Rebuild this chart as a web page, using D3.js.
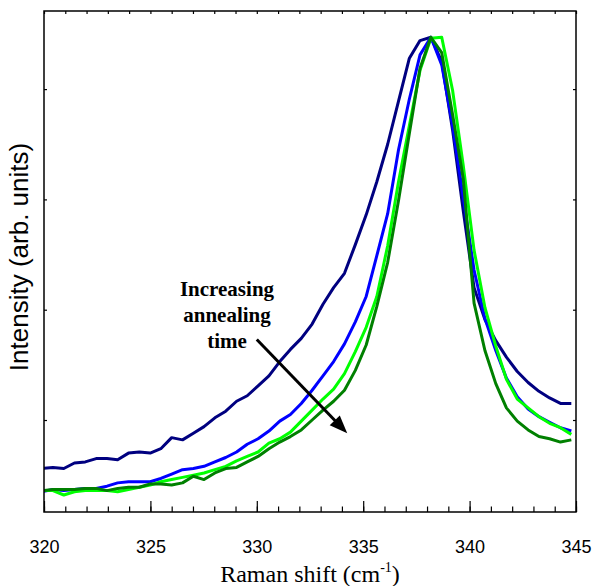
<!DOCTYPE html>
<html>
<head>
<meta charset="utf-8">
<script src="https://cdn.jsdelivr.net/npm/d3@7"></script>
<style>
  body { margin: 0; background: #fff; }
</style>
</head>
<body>
<div id="chart"></div>
<script>
// Raman shift (cm-1) of every sample point
var shift = [319.91, 320.42, 320.93, 321.43, 321.94, 322.45, 322.96, 323.46, 323.97, 324.48,
  324.99, 325.49, 326.00, 326.51, 327.02, 327.52, 328.03, 328.54, 329.05, 329.55,
  330.06, 330.57, 331.08, 331.58, 332.09, 332.60, 333.11, 333.61, 334.12, 334.63,
  335.14, 335.64, 336.15, 336.66, 337.17, 337.67, 338.18, 338.69, 339.20, 339.70,
  340.21, 340.72, 341.23, 341.73, 342.24, 342.75, 343.26, 343.76, 344.27, 344.78];

// intensities (arb. units), shortest to longest annealing
var navySeries = [56, 57, 56, 61, 62, 65, 65, 64, 70, 71,
  70, 74, 84, 82, 88, 94, 102, 108, 117, 122,
  131, 140, 153, 164, 174, 187, 205, 220, 233, 259,
  286, 316, 350, 389, 428, 444, 447, 425, 363, 290,
  220, 191, 172, 157, 144, 134, 126, 120, 115, 115];
var blueSeries = [35, 37, 36, 37, 38, 38, 40, 43, 44, 44,
  44, 47, 51, 55, 56, 58, 62, 66, 71, 78,
  83, 90, 99, 105, 115, 127, 140, 153, 169, 189,
  212, 249, 287, 345, 391, 431, 447, 422, 367, 302,
  236, 192, 163, 138, 121, 110, 103, 98, 93, 90];
var limeSeries = [36, 36, 32, 35, 36, 36, 36, 35, 37, 39,
  41, 44, 46, 48, 50, 52, 55, 58, 63, 67,
  71, 79, 83, 89, 99, 109, 119, 128, 142, 162,
  184, 212, 258, 316, 367, 417, 446, 447, 399, 331,
  254, 202, 167, 137, 119, 111, 103, 97, 93, 87];
var greenSeries = [36, 37, 37, 37, 38, 38, 36, 38, 39, 39,
  42, 42, 41, 43, 49, 46, 52, 56, 57, 62,
  67, 74, 80, 85, 91, 100, 109, 117, 127, 145,
  168, 203, 243, 299, 360, 419, 447, 433, 377, 319,
  206, 163, 133, 111, 99, 91, 85, 83, 80, 82];

var seriesNames = ["navy", "blue", "lime", "green"];
var seriesValues = [navySeries, blueSeries, limeSeries, greenSeries];
var seriesColors = ["#000080", "#0000ff", "#00ff00", "#008000"];

var xMajorTicks = [320, 325, 330, 335, 340, 345];
var xMinorTicks = d3.range(320, 346, 1);
var yTicks = [100, 200, 300, 400];
var xDomain = [320, 345];
var yDomain = [16.6, 470.8];

var noteLines = ["Increasing", "annealing", "time"];
var noteAt = { x: 328.6, y: [212.4, 188.8, 165.3] };
var arrowFrom = [330.0, 173];
var arrowTo = [334.25, 88];

var svgWidth = 593;
var svgHeight = 586;
var plot = { left: 44, right: 576, top: 11, bottom: 512 };

var svg = d3.select("#chart")
  .append("svg")
  .attr("width", svgWidth)
  .attr("height", svgHeight)
  .style("display", "block");

var x = d3.scaleLinear().domain(xDomain).range([plot.left, plot.right]);
var y = d3.scaleLinear().domain(yDomain).range([plot.bottom, plot.top]);

svg.append("clipPath")
  .attr("id", "plotClip")
  .append("rect")
  .attr("x", plot.left)
  .attr("y", plot.top)
  .attr("width", plot.right - plot.left)
  .attr("height", plot.bottom - plot.top);

// spectra
var line = d3.line()
  .x(function(d) { return x(d[0]); })
  .y(function(d) { return y(d[1]); });

svg.append("g")
  .attr("clip-path", "url(#plotClip)")
  .selectAll("path")
  .data(seriesValues)
  .enter()
  .append("path")
  .attr("d", function(vals) {
    return line(vals.map(function(v, i) { return [shift[i], v]; }));
  })
  .attr("fill", "none")
  .attr("stroke", function(d, i) { return seriesColors[i]; })
  .attr("stroke-width", 3)
  .attr("stroke-linejoin", "round");

// axes, ticks inside
function styleAxis(g) {
  g.select(".domain").remove();
  g.selectAll(".tick line").attr("stroke", "#000").attr("stroke-width", 1.2);
}

svg.append("g")
  .attr("transform", "translate(0," + plot.bottom + ")")
  .call(d3.axisBottom(x).tickValues(xMinorTicks).tickSize(-5.5).tickFormat(""))
  .call(styleAxis);

svg.append("g")
  .attr("transform", "translate(0," + plot.bottom + ")")
  .call(d3.axisBottom(x).tickValues(xMajorTicks).tickSize(-11).tickPadding(28)
    .tickFormat(d3.format("d")))
  .call(styleAxis)
  .selectAll("text")
  .attr("fill", "#000")
  .style("font-family", "'Liberation Sans', Arial, sans-serif")
  .style("font-size", "18px");

svg.append("g")
  .attr("transform", "translate(0," + plot.top + ")")
  .call(d3.axisTop(x).tickValues(xMinorTicks).tickSize(-3).tickFormat(""))
  .call(styleAxis);

svg.append("g")
  .attr("transform", "translate(" + plot.left + ",0)")
  .call(d3.axisLeft(y).tickValues(yTicks).tickSize(-3).tickFormat(""))
  .call(styleAxis);

svg.append("g")
  .attr("transform", "translate(" + plot.right + ",0)")
  .call(d3.axisRight(y).tickValues(yTicks).tickSize(-3).tickFormat(""))
  .call(styleAxis);

svg.append("rect")
  .attr("x", plot.left)
  .attr("y", plot.top)
  .attr("width", plot.right - plot.left)
  .attr("height", plot.bottom - plot.top)
  .attr("fill", "none")
  .attr("stroke", "#000")
  .attr("stroke-width", 1.5);

// axis titles
var xTitle = svg.append("text")
  .attr("x", (plot.left + plot.right) / 2)
  .attr("y", 582)
  .attr("text-anchor", "middle")
  .style("font-family", "'Liberation Serif', 'Times New Roman', serif")
  .style("font-size", "24px")
  .attr("fill", "#000");
xTitle.append("tspan").text("Raman shift (cm");
xTitle.append("tspan").attr("dy", -10).style("font-size", "14px").text("-1");
xTitle.append("tspan").attr("dy", 10).text(")");

svg.append("text")
  .attr("transform", "translate(28,257) rotate(-90)")
  .attr("text-anchor", "middle")
  .style("font-family", "'Liberation Sans', Arial, sans-serif")
  .style("font-size", "26px")
  .attr("fill", "#000")
  .text("Intensity (arb. units)");

// annotation
svg.append("g")
  .selectAll("text")
  .data(noteLines)
  .enter()
  .append("text")
  .attr("x", x(noteAt.x))
  .attr("y", function(d, i) { return y(noteAt.y[i]); })
  .attr("text-anchor", "middle")
  .style("font-family", "'Liberation Serif', 'Times New Roman', serif")
  .style("font-weight", "bold")
  .style("font-size", "21px")
  .attr("fill", "#000")
  .text(function(d) { return d; });

var ax0 = x(arrowFrom[0]), ay0 = y(arrowFrom[1]);
var ax1 = x(arrowTo[0]), ay1 = y(arrowTo[1]);
var ang = Math.atan2(ay1 - ay0, ax1 - ax0);
var headLen = 18, headHalf = 7;
var bx = ax1 - headLen * Math.cos(ang), by = ay1 - headLen * Math.sin(ang);

svg.append("line")
  .attr("x1", ax0).attr("y1", ay0)
  .attr("x2", bx + 2 * Math.cos(ang)).attr("y2", by + 2 * Math.sin(ang))
  .attr("stroke", "#000")
  .attr("stroke-width", 3);

svg.append("path")
  .attr("d", "M" + ax1 + "," + ay1 +
    "L" + (bx + headHalf * Math.sin(ang)) + "," + (by - headHalf * Math.cos(ang)) +
    "L" + (bx - headHalf * Math.sin(ang)) + "," + (by + headHalf * Math.cos(ang)) + "Z")
  .attr("fill", "#000");
</script>
</body>
</html>
